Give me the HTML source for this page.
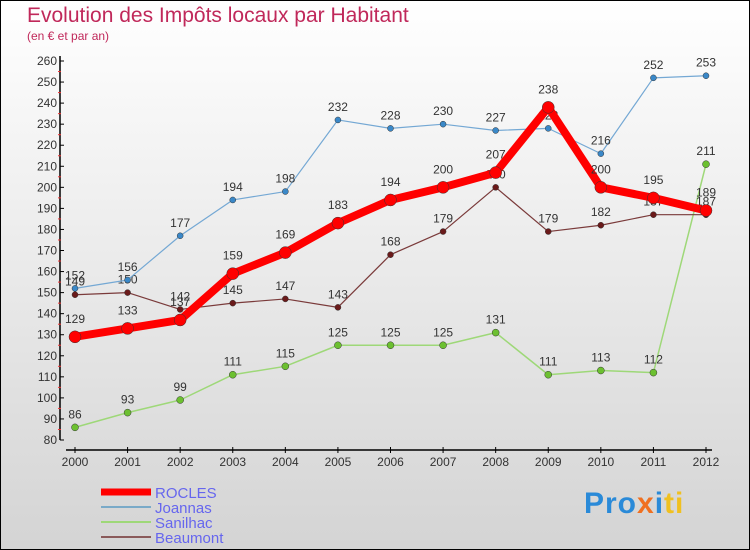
<!DOCTYPE html>
<html><head><meta charset="utf-8"><style>
body{margin:0;}
#c{width:750px;height:550px;position:relative;background:linear-gradient(#fff,#d4d4d4);border:1px solid #000;box-sizing:border-box;overflow:hidden;font-family:"Liberation Sans",sans-serif;}
.t{position:absolute;color:#c0285a;}
</style></head><body>
<div id="c">
<div class="t" style="left:26px;top:3px;font-size:21px;">Evolution des Impôts locaux par Habitant</div>
<div class="t" style="left:26px;top:28px;font-size:12px;">(en € et par an)</div>
<svg id="s" width="750" height="550" style="position:absolute;left:-1px;top:-1px"></svg>
<div style="position:absolute;left:583px;top:486px;font-size:30px;font-weight:bold;letter-spacing:1px;"><span style="color:#2a8ad8">Pro</span><span style="color:#f07020">x</span><span style="color:#2a8ad8">i</span><span style="color:#f0c020">ti</span></div>
</div>
<script>
const years=[2000,2001,2002,2003,2004,2005,2006,2007,2008,2009,2010,2011,2012];
const rocles=[129,133,137,159,169,183,194,200,207,238,200,195,189];
const joannas=[152,156,177,194,198,232,228,230,227,228,216,252,253];
const sanilhac=[86,93,99,111,115,125,125,125,131,111,113,112,211];
const beaumont=[149,150,142,145,147,143,168,179,200,179,182,187,187];
const yTicks=[80,90,100,110,120,130,140,150,160,170,180,190,200,210,220,230,240,250,260];
const NS="http://www.w3.org/2000/svg";
const s=document.getElementById('s');
const X=i=>75+i*(706-75)/12;
const Y=v=>440-(v-80)*(440-61)/180;
function el(t,a,p){const e=document.createElementNS(NS,t);for(const k in a)e.setAttribute(k,a[k]);(p||s).appendChild(e);return e;}
let ax=el('line',{x1:60,y1:56,x2:60,y2:440,stroke:'#000','stroke-width':1.5});

let bx=el('line',{x1:66,y1:450,x2:712,y2:450,stroke:'#000','stroke-width':1.5});

yTicks.forEach((v,i)=>{
 el('line',{x1:60,y1:Y(v),x2:64,y2:Y(v),stroke:'#000'});
 if(i<yTicks.length-1)el('line',{x1:58,y1:Y(v+5),x2:61,y2:Y(v+5),stroke:'#e33'});
 const t=el('text',{x:57,y:Y(v)+4,'text-anchor':'end','font-size':12,fill:'#333'});t.textContent=v;
 
});
years.forEach((y,i)=>{
 el('line',{x1:X(i),y1:447,x2:X(i),y2:453,stroke:'#000'});
 const t=el('text',{x:X(i),y:466,'text-anchor':'middle','font-size':12,fill:'#333'});t.textContent=y;
 
});
function series(d,col,dot,w,r,name,dy){
 const g=el('g',{});
 el('polyline',{points:d.map((v,i)=>X(i)+','+Y(v)).join(' '),fill:'none',stroke:col,'stroke-width':w,'stroke-linejoin':'round'},g);
 d.forEach((v,i)=>{
  const c=el('circle',{cx:X(i),cy:Y(v),r:r,fill:dot,stroke:'#333','stroke-width':0.5},g);
  
  const t=el('text',{x:X(i),y:Y(v)-dy,'text-anchor':'middle','font-size':12,fill:'#333'},g);t.textContent=v;
 });
}
series(sanilhac,'#9ed878','#6cc030',1.5,3.5,'sanilhac',9);
series(beaumont,'#7a3a3a','#6a1a1a',1.2,3,'beaumont',9);
series(joannas,'#74a8d4','#3a88c8',1.2,3,'joannas',9);
series(rocles,'#f00','#f00',8,6,'rocles',14);
const leg=[['ROCLES','#f00',7,492],['Joannas','#7aaac8',2,507],['Sanilhac','#9ed878',2,522],['Beaumont','#8a5a5a',2,537]];
leg.forEach(l=>{
 el('line',{x1:101,y1:l[3],x2:151,y2:l[3],stroke:l[1],'stroke-width':l[2]});
 const t=el('text',{x:155,y:l[3]+6,'font-size':15,fill:'#6666ee'});t.textContent=l[0];
 
});
</script>
</body></html>
